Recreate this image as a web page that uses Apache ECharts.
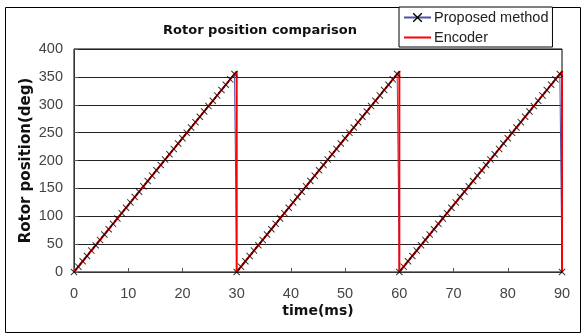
<!DOCTYPE html>
<html><head><meta charset="utf-8">
<script src="https://cdn.jsdelivr.net/npm/echarts@6/dist/echarts.min.js"></script>
<style>html,body{margin:0;padding:0;background:#fff}#c{width:586px;height:335px}</style>
</head><body><div id="c"></div>
<script>
const chartTitle = 'Rotor position comparison';
const xName = 'time(ms)';
const yName = 'Rotor position(deg)';
const seriesNames = ['Proposed method', 'Encoder'];
const xTicks = [0, 10, 20, 30, 40, 50, 60, 70, 80, 90];
const yTicks = [0, 50, 100, 150, 200, 250, 300, 350, 400];

const proposedTime = [
  0,0.8,1.6,2.4,3.2,4,4.8,5.6,6.4,7.2,8,8.8,9.6,10.4,11.2,12,12.8,13.6,14.4,15.2,16,16.8,17.6,18.4,19.2,20,20.8,21.6,22.4,23.2,24,24.8,25.6,26.4,27.2,28,28.8,29.6,
  30,30.8,31.6,32.4,33.2,34,34.8,35.6,36.4,37.2,38,38.8,39.6,40.4,41.2,42,42.8,43.6,44.4,45.2,46,46.8,47.6,48.4,49.2,50,50.8,51.6,52.4,53.2,54,54.8,55.6,56.4,57.2,58,58.8,59.6,
  60,60.8,61.6,62.4,63.2,64,64.8,65.6,66.4,67.2,68,68.8,69.6,70.4,71.2,72,72.8,73.6,74.4,75.2,76,76.8,77.6,78.4,79.2,80,80.8,81.6,82.4,83.2,84,84.8,85.6,86.4,87.2,88,88.8,89.6,
  90
];
const proposedDeg = [
  0,9.6,19.2,28.8,38.4,48,57.6,67.2,76.8,86.4,96,105.6,115.2,124.8,134.4,144,153.6,163.2,172.8,182.4,192,201.6,211.2,220.8,230.4,240,249.6,259.2,268.8,278.4,288,297.6,307.2,316.8,326.4,336,345.6,355.2,
  0,9.6,19.2,28.8,38.4,48,57.6,67.2,76.8,86.4,96,105.6,115.2,124.8,134.4,144,153.6,163.2,172.8,182.4,192,201.6,211.2,220.8,230.4,240,249.6,259.2,268.8,278.4,288,297.6,307.2,316.8,326.4,336,345.6,355.2,
  0,9.6,19.2,28.8,38.4,48,57.6,67.2,76.8,86.4,96,105.6,115.2,124.8,134.4,144,153.6,163.2,172.8,182.4,192,201.6,211.2,220.8,230.4,240,249.6,259.2,268.8,278.4,288,297.6,307.2,316.8,326.4,336,345.6,355.2,
  0
];
const encoderTime = [0, 30, 30, 60, 60, 90, 90];
const encoderDeg = [0, 360, 0, 360, 0, 360, 0];

const pairs = (xs, ys) => xs.map((x, i) => [x, ys[i]]);
const xMark = 'path://M0,1L1,0L5,4L9,0L10,1L6,5L10,9L9,10L5,6L1,10L0,9L4,5Z';
const font = '"Liberation Sans", Arial, sans-serif';
const boldFont = '"DejaVu Sans", "Liberation Sans", sans-serif';

const chart = echarts.init(document.getElementById('c'), null, {renderer: 'canvas'});
chart.setOption({
  animation: false,
  backgroundColor: '#fff',
  title: {
    text: chartTitle, left: 255, top: 19, textAlign: 'center',
    textStyle: {fontFamily: boldFont, fontSize: 13, fontWeight: 'bold', color: '#111'}
  },
  graphic: [{
    type: 'rect', z: -1, silent: true,
    shape: {x: 5.5, y: 7.5, width: 575, height: 325},
    style: {fill: 'none', stroke: '#000', lineWidth: 1}
  }],
  legend: {
    orient: 'vertical', left: 399, top: 7, z: 10,
    backgroundColor: '#fff', borderColor: '#000', borderWidth: 1,
    padding: [3, 4, 2, 4], itemGap: 5, itemWidth: 27, itemHeight: 12,
    textStyle: {fontFamily: font, fontSize: 14.5, color: '#222', padding: [0, 0, 0, -2]},
    data: [
      {name: seriesNames[0], itemStyle: {color: '#000'}},
      {name: seriesNames[1], itemStyle: {opacity: 0}}
    ]
  },
  grid: {left: 74, top: 49, width: 488, height: 223, show: true, borderColor: '#000', borderWidth: 1, backgroundColor: 'transparent'},
  xAxis: {
    type: 'value', min: xTicks[0], max: xTicks[xTicks.length - 1], interval: 10,
    name: xName, nameLocation: 'middle', nameGap: 32, nameMoveOverlap: false,
    nameTextStyle: {fontFamily: boldFont, fontSize: 14, fontWeight: 'bold', color: '#111'},
    axisLine: {lineStyle: {color: '#333', width: 1}},
    axisTick: {inside: true, length: 4, lineStyle: {color: '#555'}},
    axisLabel: {fontFamily: font, fontSize: 14.5, color: '#444', margin: 14},
    splitLine: {show: false}
  },
  yAxis: {
    type: 'value', min: yTicks[0], max: yTicks[yTicks.length - 1], interval: 50,
    name: yName, nameLocation: 'middle', nameGap: 40, nameRotate: 90, nameMoveOverlap: false,
    nameTextStyle: {fontFamily: boldFont, fontSize: 15, fontWeight: 'bold', color: '#111'},
    axisLine: {lineStyle: {color: '#333', width: 1}},
    axisTick: {inside: true, length: 4, lineStyle: {color: '#555'}},
    axisLabel: {fontFamily: font, fontSize: 14.5, color: '#444', margin: 11},
    splitLine: {show: true, lineStyle: {color: '#222', width: 1}}
  },
  series: [
    {
      name: seriesNames[0], type: 'line', z: 2,
      data: pairs(proposedTime, proposedDeg),
      symbol: xMark, symbolSize: 7, showSymbol: false,
      lineStyle: {color: '#5050a8', width: 1},
      itemStyle: {color: '#5050a8'}
    },
    {
      name: seriesNames[1], type: 'line', z: 3,
      data: pairs(encoderTime, encoderDeg),
      symbol: 'none',
      lineStyle: {color: '#ff0000', width: 2},
      itemStyle: {color: '#ff0000'}
    },
    {
      name: 'markers', type: 'scatter', z: 4,
      data: pairs(proposedTime, proposedDeg),
      symbol: xMark, symbolSize: 7,
      itemStyle: {color: '#000'}
    }
  ]
});
</script></body></html>
